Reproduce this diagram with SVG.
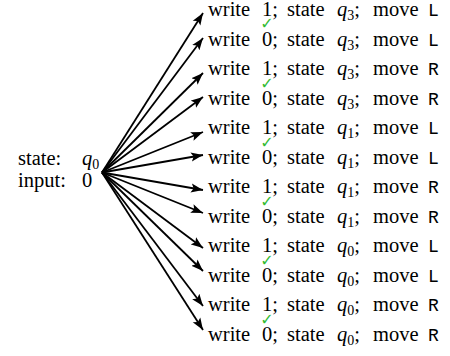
<svg xmlns="http://www.w3.org/2000/svg" width="450" height="356" viewBox="0 0 450 356">
<defs>
<style>
.t{font-family:'Liberation Serif','DejaVu Serif',serif;font-size:20.5px;fill:#000}
.it{font-style:italic}
.sub{font-size:14px}
.tt{font-family:'Liberation Mono','DejaVu Sans Mono',monospace;font-size:18px}
.ck{font-family:'DejaVu Sans',sans-serif;font-size:16px;fill:#3b3;text-anchor:middle}
.ar{stroke:#000;stroke-width:1.8;fill:none;marker-end:url(#ah)}
</style>
<marker id="ah" markerUnits="userSpaceOnUse" markerWidth="13" markerHeight="10" refX="12" refY="4.5" orient="auto" viewBox="0 0 13 9">
<path d="M0,0 L12,4.5 L0,9 L2.5,4.5 z" fill="#000"/>
</marker>
</defs>
<g id="start">
<text class="t" y="165"><tspan x="18">state:</tspan><tspan x="82" class="it">q</tspan><tspan class="sub" dy="4">0</tspan></text>
<text class="t" y="187"><tspan x="18">input:</tspan><tspan x="82">0</tspan></text>
</g>
<g id="connectors">
<line class="ar" x1="102" y1="172.5" x2="203" y2="13"/>
<line class="ar" x1="102" y1="172.5" x2="203" y2="38"/>
<line class="ar" x1="102" y1="172.5" x2="203" y2="73"/>
<line class="ar" x1="102" y1="172.5" x2="203" y2="97"/>
<line class="ar" x1="102" y1="172.5" x2="203" y2="132"/>
<line class="ar" x1="102" y1="172.5" x2="203" y2="155"/>
<line class="ar" x1="102" y1="172.5" x2="203" y2="190"/>
<line class="ar" x1="102" y1="172.5" x2="203" y2="213"/>
<line class="ar" x1="102" y1="172.5" x2="203" y2="248"/>
<line class="ar" x1="102" y1="172.5" x2="203" y2="271"/>
<line class="ar" x1="102" y1="172.5" x2="203" y2="306"/>
<line class="ar" x1="102" y1="172.5" x2="203" y2="330"/>
</g>
<g id="r1"><text class="t" y="16"><tspan x="208">write</tspan><tspan x="262">1;</tspan><tspan x="287">state</tspan><tspan x="337" class="it">q</tspan><tspan class="sub" dy="4">3</tspan><tspan dy="-4">;</tspan><tspan x="373">move</tspan><tspan x="428" class="tt">L</tspan></text></g>
<g id="r2"><text class="ck" x="267" y="29">✓</text><text class="t" y="45.5"><tspan x="208">write</tspan><tspan x="262">0;</tspan><tspan x="287">state</tspan><tspan x="337" class="it">q</tspan><tspan class="sub" dy="4">3</tspan><tspan dy="-4">;</tspan><tspan x="373">move</tspan><tspan x="428" class="tt">L</tspan></text></g>
<g id="r3"><text class="t" y="75"><tspan x="208">write</tspan><tspan x="262">1;</tspan><tspan x="287">state</tspan><tspan x="337" class="it">q</tspan><tspan class="sub" dy="4">3</tspan><tspan dy="-4">;</tspan><tspan x="373">move</tspan><tspan x="428" class="tt">R</tspan></text></g>
<g id="r4"><text class="ck" x="267" y="88.5">✓</text><text class="t" y="104.5"><tspan x="208">write</tspan><tspan x="262">0;</tspan><tspan x="287">state</tspan><tspan x="337" class="it">q</tspan><tspan class="sub" dy="4">3</tspan><tspan dy="-4">;</tspan><tspan x="373">move</tspan><tspan x="428" class="tt">R</tspan></text></g>
<g id="r5"><text class="t" y="134"><tspan x="208">write</tspan><tspan x="262">1;</tspan><tspan x="287">state</tspan><tspan x="337" class="it">q</tspan><tspan class="sub" dy="4">1</tspan><tspan dy="-4">;</tspan><tspan x="373">move</tspan><tspan x="428" class="tt">L</tspan></text></g>
<g id="r6"><text class="ck" x="267" y="147.5">✓</text><text class="t" y="163.5"><tspan x="208">write</tspan><tspan x="262">0;</tspan><tspan x="287">state</tspan><tspan x="337" class="it">q</tspan><tspan class="sub" dy="4">1</tspan><tspan dy="-4">;</tspan><tspan x="373">move</tspan><tspan x="428" class="tt">L</tspan></text></g>
<g id="r7"><text class="t" y="193"><tspan x="208">write</tspan><tspan x="262">1;</tspan><tspan x="287">state</tspan><tspan x="337" class="it">q</tspan><tspan class="sub" dy="4">1</tspan><tspan dy="-4">;</tspan><tspan x="373">move</tspan><tspan x="428" class="tt">R</tspan></text></g>
<g id="r8"><text class="ck" x="267" y="206.5">✓</text><text class="t" y="222.5"><tspan x="208">write</tspan><tspan x="262">0;</tspan><tspan x="287">state</tspan><tspan x="337" class="it">q</tspan><tspan class="sub" dy="4">1</tspan><tspan dy="-4">;</tspan><tspan x="373">move</tspan><tspan x="428" class="tt">R</tspan></text></g>
<g id="r9"><text class="t" y="252"><tspan x="208">write</tspan><tspan x="262">1;</tspan><tspan x="287">state</tspan><tspan x="337" class="it">q</tspan><tspan class="sub" dy="4">0</tspan><tspan dy="-4">;</tspan><tspan x="373">move</tspan><tspan x="428" class="tt">L</tspan></text></g>
<g id="r10"><text class="ck" x="267" y="265.5">✓</text><text class="t" y="281.5"><tspan x="208">write</tspan><tspan x="262">0;</tspan><tspan x="287">state</tspan><tspan x="337" class="it">q</tspan><tspan class="sub" dy="4">0</tspan><tspan dy="-4">;</tspan><tspan x="373">move</tspan><tspan x="428" class="tt">L</tspan></text></g>
<g id="r11"><text class="t" y="311"><tspan x="208">write</tspan><tspan x="262">1;</tspan><tspan x="287">state</tspan><tspan x="337" class="it">q</tspan><tspan class="sub" dy="4">0</tspan><tspan dy="-4">;</tspan><tspan x="373">move</tspan><tspan x="428" class="tt">R</tspan></text></g>
<g id="r12"><text class="ck" x="267" y="324.5">✓</text><text class="t" y="340.5"><tspan x="208">write</tspan><tspan x="262">0;</tspan><tspan x="287">state</tspan><tspan x="337" class="it">q</tspan><tspan class="sub" dy="4">0</tspan><tspan dy="-4">;</tspan><tspan x="373">move</tspan><tspan x="428" class="tt">R</tspan></text></g>
</svg>
